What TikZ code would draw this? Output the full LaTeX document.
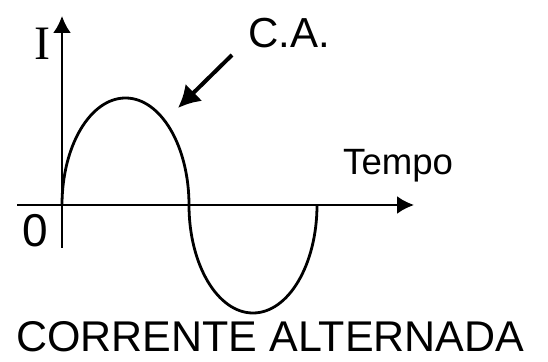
\documentclass[tikz,border=0pt]{standalone}
\usepackage{fontspec}
\setmainfont{Liberation Sans}
\newfontfamily\timesfont{Liberation Serif}
\usetikzlibrary{arrows.meta}
\tikzset{
  eixo/.style={line width=2.4pt,-{Latex[length=17pt,width=18pt]}},
  onda/.style={line width=2.8pt},
  seta/.style={line width=4pt,-{Latex[length=22pt,width=24pt]}},
  rotulo/.style={inner sep=0pt,anchor=base west}
}
\begin{document}
\begin{tikzpicture}[x=1pt,y=1pt]
          \useasboundingbox (0,0) rectangle (548,361);
          \begin{scope}[yshift=5pt]
          % eixos
          \coordinate (O) at (62,151);
          \coordinate (ybaixo) at (62,108);
          \coordinate (ytopo) at (62,340);
          \coordinate (xini) at (17,151);
          \coordinate (xfim) at (414,151);
          \draw[eixo] (ybaixo) -- (ytopo);
          \draw[eixo] (xini) -- (xfim);
          % onda
          \draw[onda] (O) arc[start angle=180,end angle=0,x radius=63.5,y radius=107]
                coordinate (meio)
                arc[start angle=180,end angle=360,x radius=64,y radius=108];
          % rotulos
          \node[inner sep=0pt] (I) at (42,312) {\timesfont\fontsize{48}{48}\selectfont I};
          \node[inner sep=0pt] (zero) at (35,125) {\fontsize{46}{46}\selectfont 0};
          \node[rotulo] (ca) at (248,308) {\fontsize{42}{42}\selectfont C.A.};
          \node[rotulo] (tempo) at (343,181) {\fontsize{36.6}{36.6}\selectfont Tempo};
          \coordinate (cauda) at (232,301);
          \coordinate (ponta) at (178,248);
          \draw[seta] (cauda) -- (ponta);
          \end{scope}
          \node[rotulo] (titulo) at (16,9.5) {\fontsize{43}{43}\selectfont CORRENTE ALTERNADA};
        \end{tikzpicture}
\end{document}
